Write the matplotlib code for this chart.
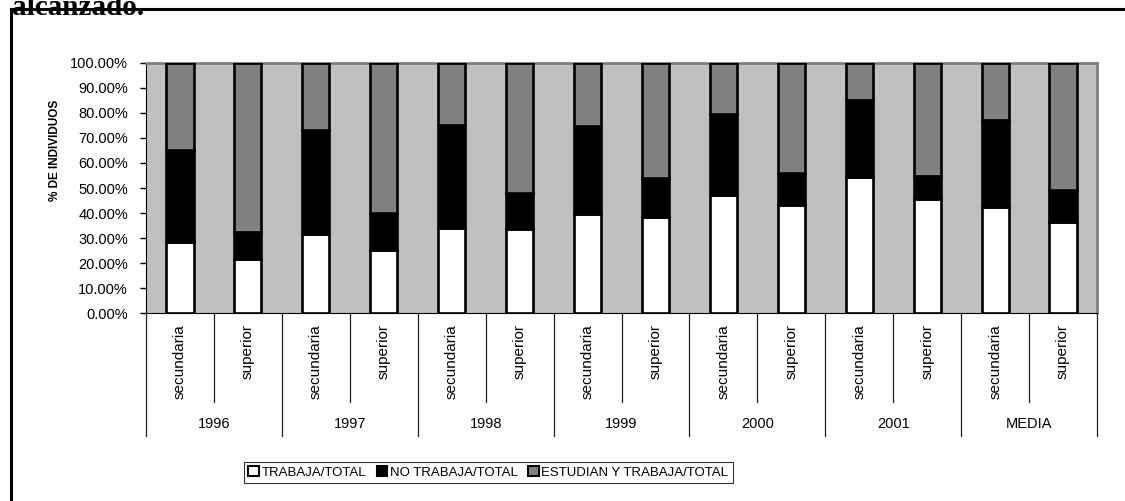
import numpy as np
import matplotlib
matplotlib.use('Agg')
import matplotlib.pyplot as plt
from matplotlib.lines import Line2D
from matplotlib.patches import Patch
import matplotlib.transforms as mtransforms

plt.rcParams['font.family'] = ['Liberation Sans', 'DejaVu Sans']

years = ['1996', '1997', '1998', '1999', '2000', '2001', 'MEDIA']
levels = ['secundaria', 'superior']
trabaja = [28.5, 21.8, 31.6, 25.4, 34.2, 33.6, 39.6, 38.5, 47.2, 43.1, 54.5, 45.5, 42.5, 36.5]
no_trabaja = [36.7, 10.6, 41.7, 14.5, 40.9, 14.3, 35.0, 15.6, 32.5, 12.8, 30.8, 9.3, 34.8, 12.7]
estudian = [34.8, 67.6, 26.7, 60.1, 24.9, 52.1, 25.4, 45.9, 20.3, 44.1, 14.7, 45.2, 22.7, 50.8]
series_names = ['TRABAJA/TOTAL', 'NO TRABAJA/TOTAL', 'ESTUDIAN Y TRABAJA/TOTAL']
colors = ['white', 'black', '#808080']

fig = plt.figure(figsize=(11.25, 5.01), dpi=100)
ax = fig.add_axes([0.1298, 0.3752, 0.8453, 0.4991])
ax.set_facecolor('#C0C0C0')

n = len(trabaja)
x = np.arange(n)
bottom = np.zeros(n)
for vals, c in zip([trabaja, no_trabaja, estudian], colors):
    ax.bar(x, vals, width=0.4, bottom=bottom, color=c, edgecolor='black', linewidth=1.9, zorder=3)
    bottom += np.array(vals)

ax.set_xlim(-0.5, n - 0.5)
ax.set_ylim(0, 100)
ax.set_yticks(np.arange(0, 101, 10))
ax.set_yticklabels(['%.2f%%' % v for v in np.arange(0, 101, 10)], fontsize=10.5)
ax.tick_params(axis='y', direction='out', length=4, width=1, pad=9)
ax.set_xticks([])
for s in ['top', 'right']:
    ax.spines[s].set_color('#808080')
    ax.spines[s].set_linewidth(2)
ax.spines['left'].set_color('black')
ax.spines['bottom'].set_color('black')
ax.set_ylabel('% DE INDIVIDUOS', fontsize=8.5, fontweight='bold')
ax.yaxis.set_label_coords(-0.089, 0.652)

# category axis with two levels
trans = mtransforms.blended_transform_factory(ax.transData, ax.transAxes)
for b in range(n + 1):
    xb = b - 0.5
    low = -0.49 if b % 2 == 0 else -0.355
    ax.plot([xb, xb], [0, low], color='#222222', lw=0.9, transform=trans, clip_on=False)
for i in range(n):
    ax.text(i, -0.045, levels[i % 2], rotation=90, ha='center', va='top',
            fontsize=11, transform=trans)
for j, yr in enumerate(years):
    ax.text(2 * j + 0.5, -0.445, yr, ha='center', va='center', fontsize=10.5, transform=trans)

handles = [Patch(facecolor=c, edgecolor='black', linewidth=1.5) for c in colors]
leg = fig.legend(handles, series_names, loc='center', bbox_to_anchor=(0.434, 0.057), ncol=3,
                 fontsize=9.5, frameon=True, fancybox=False, edgecolor='black',
                 handlelength=0.8, handleheight=0.8, handletextpad=0.2, columnspacing=0.8,
                 borderpad=0.35)
leg.get_frame().set_linewidth(0.8)

# outer frame (top and left) and cut-off title
fig.add_artist(Line2D([11 / 1125, 1], [1 - 9 / 501, 1 - 9 / 501], color='black', lw=2.2))
fig.add_artist(Line2D([11 / 1125, 11 / 1125], [0, 1 - 9 / 501], color='black', lw=2.2))
fig.text(12 / 1125, 1 - 15 / 501, 'alcanzado.', family=['Liberation Serif', 'DejaVu Serif'],
         fontsize=21, fontweight='bold', va='baseline', ha='left')

fig.savefig('out.png', dpi=100)
